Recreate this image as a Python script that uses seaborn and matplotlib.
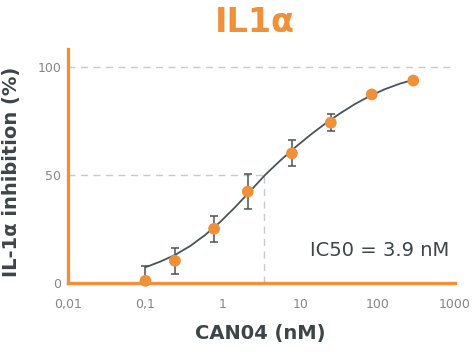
import matplotlib
matplotlib.use("Agg")
import matplotlib.pyplot as plt
import pandas as pd
import seaborn as sns

# measured points (concentration in nM, % inhibition, error)
conc_nm = [0.1, 0.24, 0.77, 2.1, 7.8, 24.8, 84, 289]
inhibition = [1, 10.3, 25.1, 42.3, 60, 74.2, 87.3, 93.7]
err = [7, 6, 6, 8, 6, 4, 0, 0]

# fitted dose-response curve
fit_conc = [0.1, 0.155, 0.241, 0.377, 0.589, 0.92, 1.44, 2.25, 3.51, 5.48,
            8.57, 13.4, 20.9, 32.7, 51.0, 79.8, 125, 195, 289]
fit_inhib = [7.3, 9.9, 13.0, 17.1, 22.2, 28.2, 35.1, 42.5, 50.0, 56.6,
             62.75, 68.45, 73.7, 78.5, 82.85, 86.6, 89.75, 92.3, 94.0]

ic50_line = 3.45
ic50_text = "IC50 = 3.9 nM"
x_ticks = [0.01, 0.1, 1, 10, 100, 1000]
x_tick_labels = ["0,01", "0,1", "1", "10", "100", "1000"]
y_ticks = [0, 50, 100]

ORANGE = "#f0913a"
DARK = "#3d4549"
LINE = "#4a5358"
GRID = "#c9c9c9"
TICK = "#858585"

df = pd.DataFrame({"conc": conc_nm, "inhib": inhibition, "err": err})
fit = pd.DataFrame({"conc": fit_conc, "inhib": fit_inhib})

sns.set_style("white")
plt.rcParams["font.family"] = ["DejaVu Sans"]

fig, ax = plt.subplots(figsize=(4.73, 3.52), dpi=100)
fig.subplots_adjust(left=0.144, right=0.962, bottom=0.196, top=0.862)

ax.set_xscale("log")
ax.set_xlim(0.01, 1000)
ax.set_ylim(0, 108.5)

# reference lines
ax.axhline(100, color=GRID, lw=1, ls=(0, (5, 4)), zorder=0)
ax.plot([0.01, ic50_line], [50, 50], color=GRID, lw=1, ls=(0, (5, 4)), zorder=0)
ax.plot([ic50_line, ic50_line], [0, 50], color=GRID, lw=1, ls=(0, (5, 4)), zorder=0)

sns.lineplot(data=fit, x="conc", y="inhib", color=LINE, lw=1.3, ax=ax, zorder=2)
ax.errorbar(df["conc"], df["inhib"], yerr=df["err"], fmt="none", ecolor=LINE,
            elinewidth=1.1, capsize=2.6, capthick=1.1, zorder=3)
sns.scatterplot(data=df, x="conc", y="inhib", color=ORANGE, s=72, edgecolor="none",
                ax=ax, zorder=4, clip_on=False)

ax.set_xticks(x_ticks)
ax.set_xticklabels(x_tick_labels)
ax.minorticks_off()
ax.set_yticks(y_ticks)
ax.tick_params(axis="x", direction="in", length=5, width=1, color=GRID,
               labelcolor=TICK, labelsize=9, pad=10.5)
ax.tick_params(axis="y", length=0, labelcolor=TICK, labelsize=9, pad=5)

for side in ["top", "right"]:
    ax.spines[side].set_visible(False)
for side in ["left", "bottom"]:
    ax.spines[side].set_color(ORANGE)
    ax.spines[side].set_linewidth(2.4)

ax.set_xlabel("CAN04 (nM)", fontsize=14, fontweight="bold", color=DARK)
ax.xaxis.set_label_coords(0.496, -0.175)
ax.set_ylabel("")
fig.text(12 / 473, 1 - 172 / 352, "IL-1α inhibition (%)", rotation=90,
         ha="center", va="center", fontsize=14, fontweight="bold", color=DARK)

ax.text(0.625, 0.137, ic50_text, transform=ax.transAxes, ha="left", va="center",
        fontsize=14, color=DARK)

fig.text(255 / 473, 1 - 23 / 352, "IL1α", ha="center", va="center",
         fontsize=24, fontweight="bold", color=ORANGE)

fig.savefig("out.png", dpi=100)
